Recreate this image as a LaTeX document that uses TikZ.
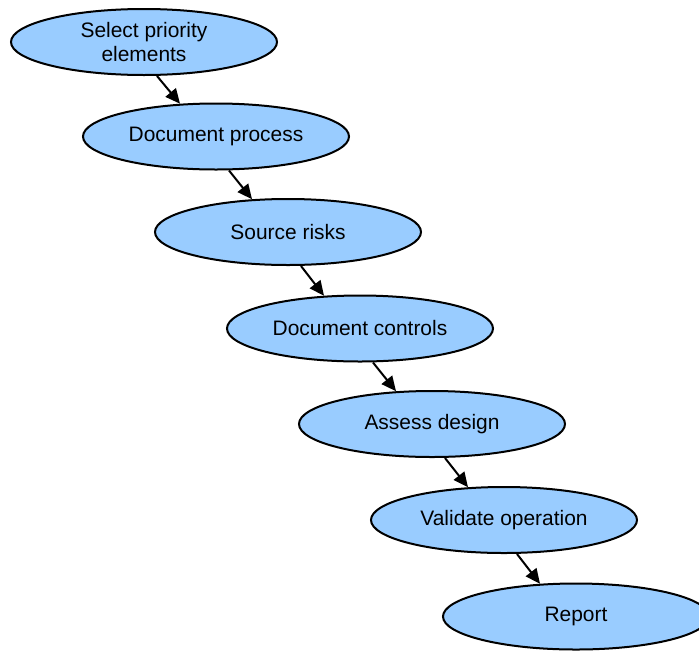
\documentclass[tikz,border=0pt]{standalone}
\usepackage{fontspec}
\setmainfont{Liberation Sans}
\usetikzlibrary{shapes.geometric,arrows.meta,calc}
\definecolor{stepfill}{HTML}{99CCFF}
\tikzset{
  stepbox/.style={ellipse, draw=black, line width=1.5pt, fill=stepfill,
    minimum width=199.5pt, minimum height=49.5pt, inner sep=0pt,
    align=center, font=\fontsize{15.7pt}{18pt}\selectfont},
  arr/.style={line width=1.5pt, -{Triangle[length=11pt,width=10pt]}}
}
\begin{document}
\begin{tikzpicture}[x=0.75pt,y=-0.75pt]
\useasboundingbox (0,0) rectangle (699,650);
\node[stepbox] (n1) at (144,42) {Select priority\\elements};
\node[stepbox] (n2) at (216,136.5) {Document process};
\node[stepbox] (n3) at (288,232) {Source risks};
\node[stepbox] (n4) at (360,328.5) {Document controls};
\node[stepbox] (n5) at (432,424) {Assess design};
\node[stepbox] (n6) at (504,520) {Validate operation};
\node[stepbox] (n7) at (576,616.5) {Report};
\foreach \a/\b in {n1/n2,n2/n3,n3/n4,n4/n5,n5/n6,n6/n7}{
  \draw[arr] ($(\a.south)+(13,0)$) -- ($(\b.north)+(-36,1.2)$);
}
\end{tikzpicture}
\end{document}
